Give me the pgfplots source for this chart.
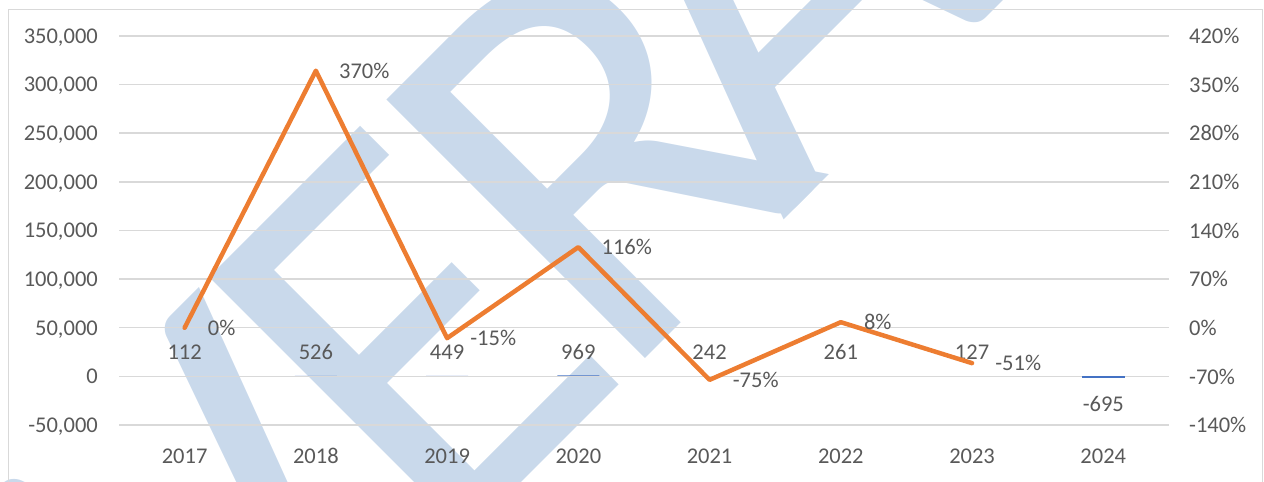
\documentclass[border=0pt]{standalone}
\usepackage{fontspec}
\setmainfont{Carlito}
\newfontfamily\wmfont{Carlito}
\usepackage{pgfplots}
\pgfplotsset{compat=1.18}
\definecolor{txt}{HTML}{595959}
\definecolor{gridc}{HTML}{D9D9D9}
\definecolor{barblue}{HTML}{4472C4}
\definecolor{lineorange}{HTML}{ED7D31}
\definecolor{wm}{RGB}{201,217,235}
\newcommand{\lblfont}{\fontsize{22.5bp}{27bp}\selectfont}
\tikzset{lbl/.style={text=txt, font=\lblfont, inner sep=0pt, text depth=0pt}}
\pgfplotsset{
  common/.style={
    at={(119bp,57bp)}, anchor=south west,
    width=1050bp, height=389bp, scale only axis,
    xmin=-0.5, xmax=7.5, clip=false,
    axis line style={draw=none}, major tick length=0pt,
    ticklabel style={text=txt, font=\lblfont, inner sep=0pt, text depth=0pt},
  },
}
\begin{document}
\begin{tikzpicture}[x=1bp,y=1bp]
\useasboundingbox (0,0) rectangle (1264,482);
\begin{scope}
\clip (0,0) rectangle (1264,482);
\node[rotate=45, anchor=base west, inner sep=0pt, text=wm, font=\wmfont\fontsize{570bp}{600bp}\selectfont] at (230.5,-291.5) {V\kern-28bp E\kern-28bp R\kern-75bp A};
\draw[gridc, line width=1bp] (8,-20) rectangle (1262,472);
\end{scope}

% left axis: grid and positive bars (grid drawn over the sub-pixel bars)
\begin{axis}[
  common, axis on top,
  ymin=-50000, ymax=350000, scaled y ticks=false,
  xtick={0,1,2,3,4,5,6,7},
  xticklabels={2017,2018,2019,2020,2021,2022,2023,2024},
  ytick={-50000,0,50000,100000,150000,200000,250000,300000,350000},
  yticklabels={{-50,000},{0},{50,000},{100,000},{150,000},{200,000},{250,000},{300,000},{350,000}},
  ymajorgrids, major grid style={gridc, line width=1.5bp},
  yticklabel style={anchor=east, xshift=-21bp},
  xticklabel style={anchor=center, yshift=-31bp},
  ybar, bar width=42bp, bar shift=0pt,
]
\addplot[fill=barblue, draw=none, nodes near coords, point meta=explicit symbolic,
  every node near coord/.append style={lbl, anchor=center, yshift=24bp}]
  coordinates {(0,112)[112] (1,526)[526] (2,449)[449] (3,969)[969] (4,242)[242] (5,261)[261] (6,127)[127]};
\end{axis}

% same scale, no axis: the negative bar, drawn over the grid
\begin{axis}[
  common, hide axis,
  ymin=-50000, ymax=350000,
  ybar, bar width=42bp, bar shift=0pt,
]
\addplot[fill=barblue, draw=barblue, line width=0.8bp, nodes near coords, point meta=explicit symbolic,
  every node near coord/.append style={lbl, anchor=center, yshift=-27bp}]
  coordinates {(7,-695)[-695]};
\end{axis}

% right axis: growth line
\begin{axis}[
  common,
  ymin=-140, ymax=420,
  axis y line*=right, axis x line=none,
  ytick={-140,-70,0,70,140,210,280,350,420},
  yticklabels={{-140\%},{-70\%},{0\%},{70\%},{140\%},{210\%},{280\%},{350\%},{420\%}},
  yticklabel style={anchor=west, xshift=20bp},
]
\addplot[lineorange, line width=4.5bp, line join=round, line cap=round, mark=none,
  nodes near coords, point meta=explicit symbolic,
  every node near coord/.append style={lbl, anchor=west, xshift=21bp}]
  coordinates {(0,0)[0\%] (1,370)[370\%] (2,-15)[-15\%] (3,116)[116\%] (4,-75)[-75\%] (5,8)[8\%] (6,-51)[-51\%]};
\end{axis}
\end{tikzpicture}
\end{document}
